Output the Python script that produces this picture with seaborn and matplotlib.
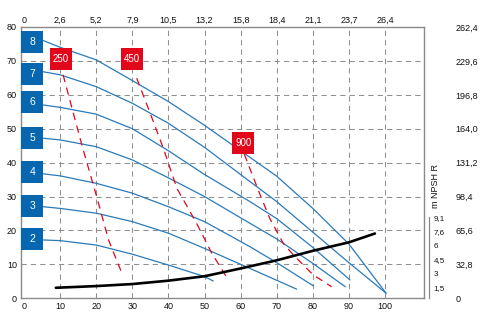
import numpy as np
import pandas as pd
import matplotlib
matplotlib.use("Agg")
import matplotlib.pyplot as plt
import seaborn as sns

# ---------------- data ----------------
stages = ["2", "3", "4", "5", "6", "7", "8"]

q_s2 = [5.3, 10, 20, 30, 40, 50, 52.4]
h_s2 = [17.2, 17.0, 15.7, 13.0, 9.8, 6.4, 5.1]
q_s3 = [5.3, 10, 20, 30, 40, 50, 62.6, 75.5]
h_s3 = [27.0, 26.5, 25.1, 22.6, 19.2, 14.7, 8.8, 2.7]
q_s4 = [5.3, 10, 20, 30, 40, 50, 62.6, 70, 80.1]
h_s4 = [36.7, 36.1, 33.9, 31.0, 27.0, 22.6, 15.2, 10.5, 3.7]
q_s5 = [5.3, 10, 20, 30, 40, 50, 62.6, 70, 80, 89.0]
h_s5 = [47.2, 46.7, 44.7, 40.8, 35.5, 30.0, 22.1, 17.5, 10.3, 3.4]
q_s6 = [5.3, 10, 20, 30, 40, 50, 62.6, 70, 80, 90.3]
h_s6 = [57.0, 56.3, 54.3, 50.0, 43.5, 36.5, 28.5, 23.5, 15.0, 5.4]
q_s7 = [5.3, 10, 20, 30, 40, 50, 62.6, 70, 80, 90, 100.3]
h_s7 = [66.8, 65.9, 62.4, 57.5, 51.6, 44.5, 34.4, 28.5, 19.5, 10.5, 1.5]
q_s8 = [5.3, 10, 20, 30, 40, 50, 60, 70, 80, 90, 100.3]
h_s8 = [76.0, 74.0, 70.3, 64.2, 58.0, 51.0, 43.5, 36.0, 26.5, 16.0, 1.5]

npsh_q = [8.8, 20, 30, 40, 50, 60, 70, 80, 90, 97.2]
npsh_h = [3.1, 3.6, 4.2, 5.2, 6.5, 8.8, 11.2, 14.0, 16.5, 19.1]

sizes = ["250", "450", "900"]
q_p250 = [10.8, 16.0, 20.1, 23.4, 27.1]
h_p250 = [65.9, 45.2, 30.0, 17.2, 7.4]
q_p450 = [31.2, 34.6, 38.6, 42.3, 47.8, 52.0, 56.6]
h_p450 = [64.9, 55.5, 44.2, 32.5, 22.1, 13.3, 5.4]
q_p900 = [61.0, 65.4, 68.1, 71.8, 74.6, 80.1, 85.2]
h_p900 = [42.5, 30.5, 23.5, 16.2, 12.8, 6.9, 3.4]

size_label_q = [10.2, 29.9, 60.7]
size_label_h = [70.6, 70.6, 45.8]

stage_box_q = [2.27, 2.27, 2.27, 2.27, 2.27, 2.27, 2.27]
stage_box_h = [17.5, 27.3, 37.3, 47.3, 57.9, 66.2, 75.5]

q_ticks = [0, 10, 20, 30, 40, 50, 60, 70, 80, 90, 100]
h_ticks = [0, 10, 20, 30, 40, 50, 60, 70, 80]
gpm_labels = ["0", "2,6", "5,2", "7,9", "10,5", "13,2", "15,8", "18,4", "21,1", "23,7", "26,4"]
ft_values = [0, 32.8, 65.6, 98.4, 131.2, 164.0, 196.8, 229.6, 262.4]
ft_labels = ["0", "32,8", "65,6", "98,4", "131,2", "164,0", "196,8", "229,6", "262,4"]
npsh_ticks = [1.524, 3.048, 4.572, 6.096, 7.62, 9.144]
npsh_labels = ["1,5", "3", "4,5", "6", "7,6", "9,1"]

# ---------------- style ----------------
BLUE_LINE = "#2a7ab8"
BLUE_BOX = "#0766b0"
RED = "#e2061b"
GRID = "#8f8f8f"
SPINE = "#8a8a8a"

sns.set_style("white")
plt.rcParams["font.family"] = ["Liberation Sans", "DejaVu Sans"]

fig = plt.figure(figsize=(4.86, 3.26), dpi=100)
ax = fig.add_axes([0.0438, 0.085, 0.8286, 0.8322])

curves = pd.concat(
    [pd.DataFrame({"Q": q, "H": h, "stage": s})
     for s, q, h in zip(stages,
                        [q_s2, q_s3, q_s4, q_s5, q_s6, q_s7, q_s8],
                        [h_s2, h_s3, h_s4, h_s5, h_s6, h_s7, h_s8])],
    ignore_index=True)
sized = pd.concat(
    [pd.DataFrame({"Q": q, "H": h, "size": s})
     for s, q, h in zip(sizes, [q_p250, q_p450, q_p900], [h_p250, h_p450, h_p900])],
    ignore_index=True)
npsh = pd.DataFrame({"Q": npsh_q, "H": npsh_h})

sns.lineplot(data=curves, x="Q", y="H", units="stage", estimator=None, sort=False,
             color=BLUE_LINE, linewidth=0.9, legend=False, ax=ax, zorder=3)
sns.lineplot(data=sized, x="Q", y="H", units="size", estimator=None, sort=False,
             color=RED, linewidth=0.9, linestyle=(0, (6, 4.5)), legend=False, ax=ax, zorder=3)
sns.lineplot(data=npsh, x="Q", y="H", estimator=None, sort=False,
             color="black", linewidth=1.9, legend=False, ax=ax, zorder=4)

sns.scatterplot(x=stage_box_q, y=stage_box_h, marker="s", s=251, color=BLUE_BOX,
                linewidth=0, legend=False, ax=ax, zorder=5)
for q, h, s in zip(stage_box_q, stage_box_h, stages):
    ax.text(q, h, s, color="white", ha="center", va="center", fontsize=7.5, zorder=6)

sns.scatterplot(x=size_label_q, y=size_label_h, marker="s", s=251, color=RED,
                linewidth=0, legend=False, ax=ax, zorder=5)
for q, h, s in zip(size_label_q, size_label_h, sizes):
    ax.text(q, h, s, color="white", ha="center", va="center", fontsize=7, zorder=6)

# ---------------- axes ----------------
ax.set_xlim(-0.78, 110.8)
ax.set_ylim(0, 80)
ax.set_xticks(q_ticks)
ax.set_yticks(h_ticks)
ax.set_xlabel("")
ax.set_ylabel("")
ax.tick_params(axis="x", length=0, pad=2.6, labelsize=6.5, colors="#111111")
ax.tick_params(axis="y", length=0, pad=3.2, labelsize=6.5, colors="#111111")
ax.grid(True, color=GRID, linewidth=0.75, linestyle=(0, (5, 4)))
ax.set_axisbelow(True)
for i, gl in enumerate(ax.get_xgridlines()):
    if q_ticks[i] == 0:
        gl.set_visible(False)
for i, gl in enumerate(ax.get_ygridlines()):
    if h_ticks[i] in (0, 80):
        gl.set_visible(False)
for sp in ax.spines.values():
    sp.set_visible(True)
    sp.set_color(SPINE)
    sp.set_linewidth(1.0)

# top axis: US gpm
top = ax.secondary_xaxis("top", functions=(lambda q: q * 0.2642, lambda g: g / 0.2642))
top.set_xticks([q * 0.2642 for q in q_ticks], labels=gpm_labels)
top.tick_params(length=0, pad=1.6, labelsize=6.5, colors="#111111")
top.spines["top"].set_visible(False)

# right axis: feet
right = ax.secondary_yaxis("right", functions=(lambda h: h * 3.28, lambda f: f / 3.28))
right.set_yticks(ft_values, labels=ft_labels)
right.tick_params(length=0, pad=22.5, labelsize=6.5, colors="#111111")
right.spines["right"].set_visible(False)

# small NPSH axis
to_h = lambda m: m * 2.72 - 1.0
to_m = lambda h: (h + 1.0) / 2.72
nax = ax.secondary_yaxis(1.0125, functions=(to_m, to_h))
nax.set_yticks(npsh_ticks, labels=npsh_labels)
nax.set_yticks([npsh_ticks[-1]], minor=True)
nax.tick_params(which="major", length=0, pad=3.5, labelsize=5.8, colors="#111111")
nax.tick_params(which="minor", length=2.8, width=0.9, direction="in", color=SPINE)
nax.spines["right"].set_color(SPINE)
nax.spines["right"].set_linewidth(0.9)
nax.spines["right"].set_bounds(to_m(0), npsh_ticks[-1])
ax.text(1.028, 0.415, "m NPSH R", transform=ax.transAxes, rotation=90,
        ha="center", va="center", fontsize=6.5, color="#111111")

fig.savefig("out.png", dpi=100)
